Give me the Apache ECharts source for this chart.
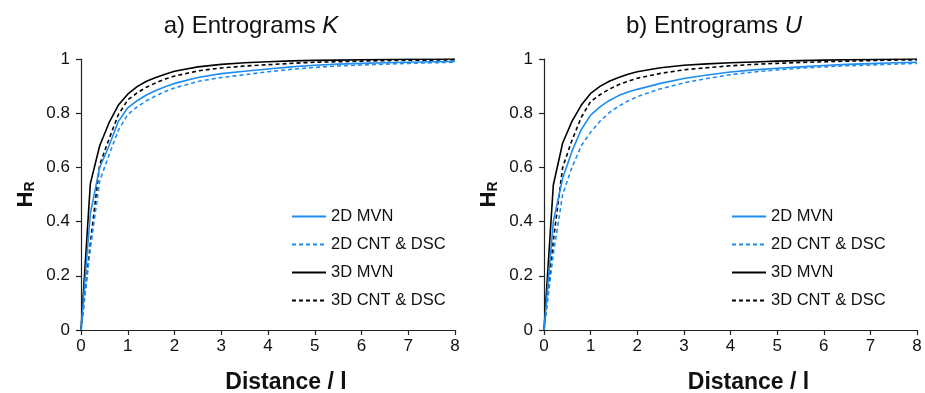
<!DOCTYPE html>
<html>
<head>
<meta charset="utf-8">
<script src="https://cdn.jsdelivr.net/npm/echarts@6/dist/echarts.min.js"></script>
<style>
html,body{margin:0;padding:0;background:#fff;}
#chart{width:925px;height:393px;}
</style>
</head>
<body>
<div id="chart"></div>
<script>
// ---- data ----
const distance = [0, 0.2, 0.4, 0.6, 0.8, 1.0, 1.2, 1.4, 1.6, 1.8, 2.0, 2.5, 3.0, 3.5, 4.0, 4.5, 5, 5.5, 6, 6.5, 7, 7.5, 8];
const seriesNames = ['2D MVN', '2D CNT & DSC', '3D MVN', '3D CNT & DSC'];
const xTicks = [0, 1, 2, 3, 4, 5, 6, 7, 8];
const yTicks = [0, 0.2, 0.4, 0.6, 0.8, 1];

// a) Entrograms K
const K_2D_MVN = [0, 0.43, 0.60, 0.68, 0.77, 0.82, 0.846, 0.867, 0.884, 0.898, 0.91, 0.932, 0.946, 0.955, 0.963, 0.971, 0.977, 0.981, 0.984, 0.986, 0.988, 0.99, 0.991];
const K_2D_CNT = [0, 0.30, 0.55, 0.646, 0.738, 0.795, 0.823, 0.846, 0.864, 0.88, 0.893, 0.917, 0.932, 0.942, 0.953, 0.962, 0.969, 0.974, 0.978, 0.981, 0.984, 0.986, 0.988];
const K_3D_MVN = [0, 0.54, 0.68, 0.765, 0.83, 0.87, 0.898, 0.918, 0.932, 0.944, 0.955, 0.971, 0.98, 0.986, 0.99, 0.993, 0.995, 0.996, 0.997, 0.998, 0.999, 0.999, 1.0];
const K_3D_CNT = [0, 0.32, 0.61, 0.705, 0.795, 0.849, 0.875, 0.896, 0.912, 0.926, 0.937, 0.956, 0.967, 0.974, 0.979, 0.984, 0.988, 0.99, 0.992, 0.994, 0.995, 0.996, 0.997];

// b) Entrograms U
const U_2D_MVN = [0, 0.40, 0.56, 0.66, 0.74, 0.793, 0.823, 0.847, 0.865, 0.878, 0.888, 0.91, 0.928, 0.941, 0.952, 0.96, 0.966, 0.971, 0.976, 0.98, 0.983, 0.986, 0.988];
const U_2D_CNT = [0, 0.28, 0.50, 0.60, 0.68, 0.73, 0.77, 0.802, 0.826, 0.845, 0.861, 0.89, 0.912, 0.928, 0.942, 0.952, 0.96, 0.966, 0.971, 0.975, 0.978, 0.981, 0.984];
const U_3D_MVN = [0, 0.535, 0.69, 0.77, 0.83, 0.873, 0.899, 0.918, 0.932, 0.944, 0.953, 0.968, 0.977, 0.982, 0.986, 0.989, 0.992, 0.994, 0.996, 0.997, 0.998, 0.999, 1.0];
const U_3D_CNT = [0, 0.33, 0.60, 0.70, 0.785, 0.843, 0.868, 0.889, 0.905, 0.918, 0.929, 0.947, 0.96, 0.968, 0.975, 0.98, 0.984, 0.987, 0.99, 0.992, 0.994, 0.996, 0.997];

// ---- styling ----
const BLUE = '#1f8cf0';
const BLACK = '#000000';
const FONT = 'Liberation Sans, Arial, sans-serif';
const styles = [
  {color: BLUE, type: 'solid'},
  {color: BLUE, type: [4, 3]},
  {color: BLACK, type: 'solid'},
  {color: BLACK, type: [4, 3]}
];

function pairs(vals) { return distance.map((d, i) => [d, vals[i]]); }

function makeSeries(gridIdx, arrays) {
  return arrays.map((vals, i) => ({
    name: seriesNames[i],
    type: 'line',
    xAxisIndex: gridIdx,
    yAxisIndex: gridIdx,
    data: pairs(vals),
    symbol: 'none',
    smooth: false,
    lineStyle: {color: styles[i].color, type: styles[i].type, width: 1.6},
    itemStyle: {color: styles[i].color},
    z: 10 - i
  }));
}

const grids = [
  {left: 81, top: 59, width: 374, height: 271, containLabel: false, outerBoundsMode: 'none'},
  {left: 544, top: 59, width: 373, height: 271, containLabel: false, outerBoundsMode: 'none'}
];

function xAxis(idx) {
  return {
    type: 'value', gridIndex: idx, min: 0, max: 8, interval: 1,
    splitLine: {show: false},
    axisLine: {onZero: false, lineStyle: {color: '#222', width: 1.2}},
    axisTick: {show: true, inside: false, length: 5, lineStyle: {color: '#222', width: 1.2}},
    axisLabel: {color: '#111', fontFamily: FONT, fontSize: 17, margin: 8},
    name: 'Distance / l', nameLocation: 'middle', nameGap: 41,
    nameTextStyle: {color: '#111', fontFamily: FONT, fontSize: 23, fontWeight: 'bold', padding: [0, 0, 0, 36]}
  };
}
function yAxis(idx) {
  return {
    type: 'value', gridIndex: idx, min: 0, max: 1, interval: 0.2,
    splitLine: {show: false},
    axisLine: {show: true, lineStyle: {color: '#222', width: 1.2}},
    axisTick: {show: true, inside: false, length: 5, lineStyle: {color: '#222', width: 1.2}},
    axisLabel: {color: '#111', fontFamily: FONT, fontSize: 17, margin: 11,
      formatter: v => String(Math.round(v * 10) / 10)},
    name: '{h|H}{r|R}', nameLocation: 'middle', nameGap: 44, nameRotate: 90,
    nameTextStyle: {
      rich: {
        h: {fontFamily: FONT, fontSize: 22, fontWeight: 'bold', color: '#111'},
        r: {fontFamily: FONT, fontSize: 14, fontWeight: 'bold', color: '#111', verticalAlign: 'bottom', padding: [8, 0, 0, 0]}
      }
    }
  };
}

function legend(left) {
  return {
    orient: 'vertical', left: left, top: 203,
    data: seriesNames,
    itemWidth: 34, itemHeight: 14, itemGap: 11,
    itemStyle: {opacity: 0},
    textStyle: {fontFamily: FONT, fontSize: 16.5, color: '#111', lineHeight: 16},
    selectedMode: false
  };
}

const chart = echarts.init(document.getElementById('chart'), null, {renderer: 'canvas'});
chart.setOption({
  backgroundColor: '#fff',
  animation: false,
  title: [
    {text: 'a) Entrograms {i|K}', left: 246, top: 9, textAlign: 'center',
     textStyle: {fontFamily: FONT, fontSize: 24, fontWeight: 'normal', color: '#111',
       rich: {i: {fontFamily: FONT, fontSize: 24, fontStyle: 'italic', color: '#111'}}}},
    {text: 'b) Entrograms {i|U}', left: 709, top: 9, textAlign: 'center',
     textStyle: {fontFamily: FONT, fontSize: 24, fontWeight: 'normal', color: '#111',
       rich: {i: {fontFamily: FONT, fontSize: 24, fontStyle: 'italic', color: '#111'}}}}
  ],
  legend: [legend(286), legend(726)],
  grid: grids,
  xAxis: [xAxis(0), xAxis(1)],
  yAxis: [yAxis(0), yAxis(1)],
  series: [
    ...makeSeries(0, [K_2D_MVN, K_2D_CNT, K_3D_MVN, K_3D_CNT]),
    ...makeSeries(1, [U_2D_MVN, U_2D_CNT, U_3D_MVN, U_3D_CNT])
  ]
});
</script>
</body>
</html>
